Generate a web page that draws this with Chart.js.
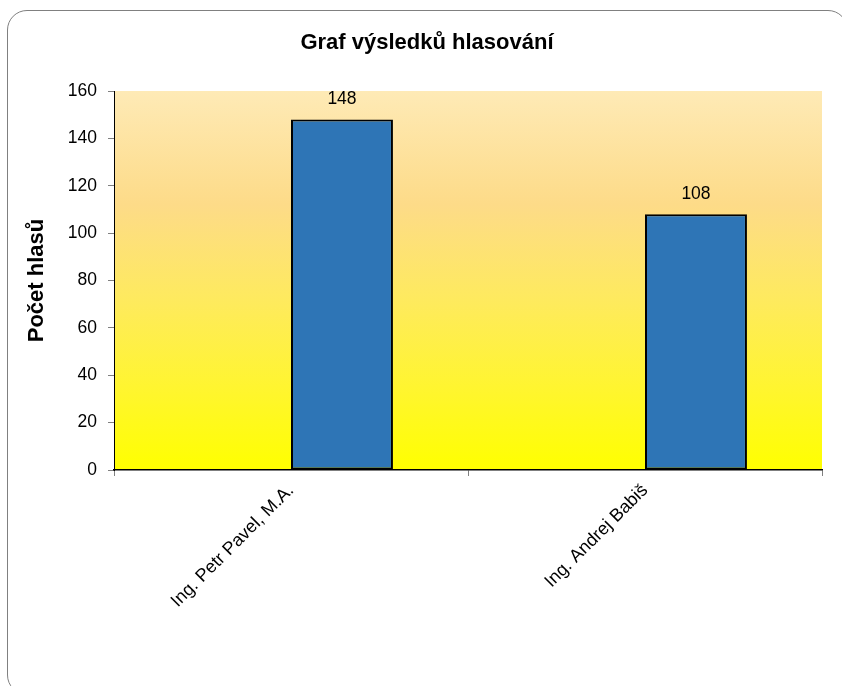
<!DOCTYPE html>
<html>
<head>
<meta charset="utf-8">
<script src="https://cdn.jsdelivr.net/npm/chart.js@4"></script>
<style>
  html, body { margin: 0; padding: 0; background: #fff; }
  #wrap { position: relative; width: 842px; height: 686px; overflow: hidden; }
  #frame {
    position: absolute; left: 7px; top: 10px; width: 841px; height: 685px;
    border: 1.5px solid #808080; border-radius: 20px; box-sizing: border-box;
  }
  #chart { position: absolute; left: 0; top: 0; }
</style>
</head>
<body>
<div id="wrap">
  <div id="frame"></div>
  <canvas id="chart" width="842" height="686"></canvas>
</div>
<script>
// Graf výsledků hlasování
const candidates = ['Ing. Petr Pavel, M.A.', 'Ing. Andrej Babiš'];
const votes = [148, 108];
const emptySeries = [null, null];
const yTicks = [0, 20, 40, 60, 80, 100, 120, 140, 160];

const FONT = "'Liberation Sans', Arial, sans-serif";

// plot area gradient: pale peach at the top, yellow at the bottom
const plotBackground = {
    id: 'plotBackground',
    beforeDraw(chart) {
        const { ctx, chartArea: a } = chart;
        const g = ctx.createLinearGradient(0, a.top, 0, a.bottom);
        g.addColorStop(0, '#FEEAB6');
        g.addColorStop(0.3, '#FDDB88');
        g.addColorStop(0.55, '#FEEA5E');
        g.addColorStop(0.8, '#FFF62C');
        g.addColorStop(1, '#FFFF00');
        ctx.save();
        ctx.fillStyle = g;
        ctx.fillRect(a.left, a.top, a.right - a.left, a.bottom - a.top);
        ctx.restore();
    }
};

// value labels above the bars
const valueLabels = {
    id: 'valueLabels',
    afterDatasetsDraw(chart) {
        const { ctx } = chart;
        ctx.save();
        ctx.font = '17.5px ' + FONT;
        ctx.fillStyle = '#000';
        ctx.textAlign = 'center';
        ctx.textBaseline = 'middle';
        chart.getDatasetMeta(1).data.forEach((bar, i) => {
            ctx.fillText(String(votes[i]), bar.x, bar.y - 20);
        });
        ctx.restore();
    }
};

new Chart(document.getElementById('chart'), {
    type: 'bar',
    data: {
        labels: candidates,
        datasets: [{
            label: '',
            data: emptySeries,
            backgroundColor: 'rgba(0,0,0,0)'
        }, {
            label: 'Počet hlasů',
            data: votes,
            backgroundColor: '#2E75B6',
            borderColor: '#000',
            borderWidth: 2,
            borderSkipped: false
        }]
    },
    options: {
        responsive: false,
        animation: false,
        events: [],
        datasets: {
            bar: {
                categoryPercentage: 0.576,
                barPercentage: 1
            }
        },
        layout: {
            padding: { top: 20, left: 20, right: 8, bottom: 0 }
        },
        plugins: {
            legend: { display: false },
            tooltip: { enabled: false },
            title: {
                display: true,
                text: 'Graf výsledků hlasování',
                color: '#000',
                font: { family: FONT, size: 22, weight: 'bold', lineHeight: 1.2 },
                padding: { top: 9.8, bottom: 34.8 }
            }
        },
        scales: {
            x: {
                grid: {
                    offset: true,
                    drawOnChartArea: false,
                    drawTicks: true,
                    tickLength: 6,
                    tickColor: '#808080'
                },
                border: { color: '#000', width: 1.5 },
                ticks: {
                    color: '#000',
                    autoSkip: false,
                    minRotation: 45,
                    maxRotation: 45,
                    padding: 4,
                    font: { family: FONT, size: 18 }
                },
                afterFit(scale) { scale.height = 216; }
            },
            y: {
                min: 0,
                max: 160,
                afterBuildTicks(scale) {
                    scale.ticks = yTicks.map(v => ({ value: v }));
                },
                grid: {
                    drawOnChartArea: false,
                    drawTicks: true,
                    tickLength: 6,
                    tickColor: '#808080'
                },
                border: { color: '#000', width: 1 },
                ticks: {
                    color: '#000',
                    padding: 11,
                    font: { family: FONT, size: 17.5 }
                },
                title: {
                    display: true,
                    text: 'Počet hlasů',
                    color: '#000',
                    font: { family: FONT, size: 22, weight: 'bold', lineHeight: 1.2 },
                    padding: { top: 3.8, bottom: 0 }
                },
                afterFit(scale) { scale.width = 94; }
            },
            // empty spacer on the right so the plot stops where Excel's does
            spacer: {
                type: 'linear',
                position: 'right',
                display: true,
                grid: { display: false },
                border: { display: false },
                ticks: { display: false },
                afterFit(scale) { scale.width = 12; }
            }
        }
    },
    plugins: [plotBackground, valueLabels]
});
</script>
</body>
</html>
